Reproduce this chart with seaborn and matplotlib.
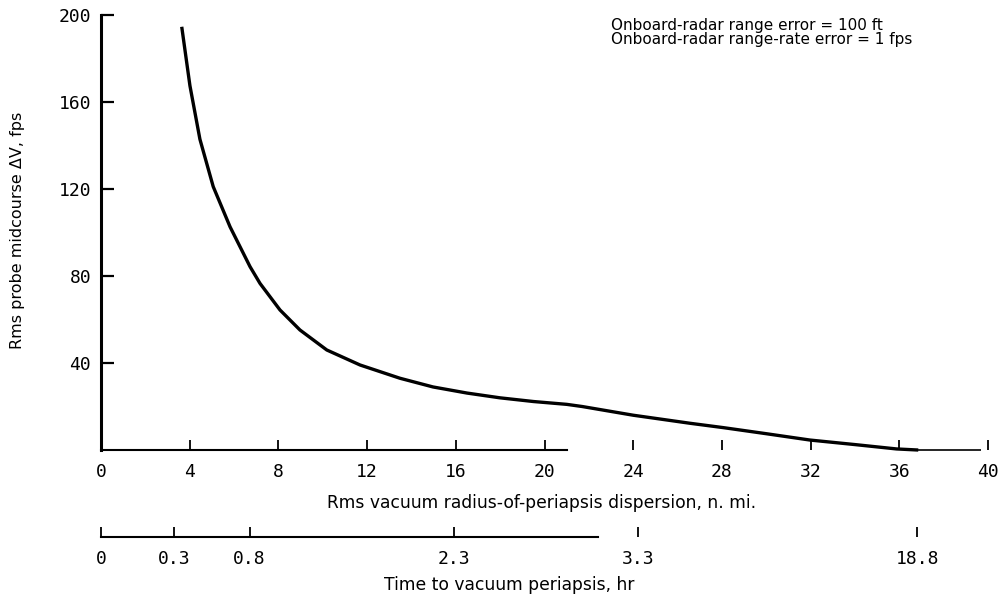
import matplotlib
matplotlib.use("Agg")
import matplotlib.pyplot as plt
import seaborn as sns
import pandas as pd

# ---- data ----
dispersion_nmi = [3.64, 4.01, 4.46, 5.06, 5.82, 6.72, 7.17, 8.07, 8.97, 10.18,
                  11.68, 13.48, 14.97, 16.5, 17.99, 19.5, 21.0, 21.7, 24.0, 26.56,
                  28.06, 30.0, 31.96, 34.0, 35.87, 36.85]
delta_v_fps = [194.6, 167.5, 142.9, 121.1, 102.6, 84.3, 76.6, 64.4, 55.2, 46.0,
               39.1, 33.0, 29.0, 26.2, 24.0, 22.3, 21.0, 20.0, 16.0, 12.3,
               10.3, 7.5, 4.6, 2.5, 0.5, 0.0]

x_ticks = [0, 4, 8, 12, 16, 20, 24, 28, 32, 36, 40]
y_ticks = [40, 80, 120, 160, 200]
time_tick_pos = [0, 3.3, 6.7, 15.9, 24.2, 36.8]
time_tick_labels = ["0", "0.3", "0.8", "2.3", "3.3", "18.8"]
x_axis_drawn = [0, 21.0]
x_axis_tail = [36.8, 39.7]
time_axis_drawn = [0, 22.4]

x_label = "Rms vacuum radius-of-periapsis dispersion, n. mi."
y_label = "Rms probe midcourse \u0394V, fps"
time_label = "Time to vacuum periapsis, hr"
note_lines = ["Onboard-radar range error = 100 ft",
              "Onboard-radar range-rate error = 1 fps"]

sns.set_theme(style="white")
plt.rcParams['font.family'] = ['DejaVu Sans']
plt.rcParams['text.color'] = 'black'
plt.rcParams['axes.labelcolor'] = 'black'
plt.rcParams['xtick.color'] = 'black'
plt.rcParams['ytick.color'] = 'black'
mono = 'DejaVu Sans Mono'

fig = plt.figure(figsize=(10.02, 5.99), dpi=100)
ax = fig.add_axes([0.1008, 0.2487, 0.892, 0.7262])

df = pd.DataFrame({"dispersion": dispersion_nmi, "dv": delta_v_fps})
sns.lineplot(data=df, x="dispersion", y="dv", ax=ax, color="black",
             linewidth=2.4, sort=False, estimator=None)
for ln in ax.lines:
    ln.set_clip_on(False)
    ln.set_solid_joinstyle("round")
    ln.set_solid_capstyle("butt")

ax.set_xlim(0, 40.3)
ax.set_ylim(0, 200)

for s in ["top", "right"]:
    ax.spines[s].set_visible(False)
ax.spines["left"].set_linewidth(2.2)
ax.spines["left"].set_color("black")
ax.spines["left"].set_bounds(0, 200)
ax.spines["bottom"].set_linewidth(1.5)
ax.spines["bottom"].set_color("black")
ax.spines["bottom"].set_bounds(*x_axis_drawn)
ax.hlines(0, *x_axis_tail, color="black", linewidth=1.2, clip_on=False)

ax.set_xticks(x_ticks, [str(v) for v in x_ticks], fontfamily=mono, fontsize=13)
ax.set_yticks(y_ticks, [str(v) for v in y_ticks], fontfamily=mono, fontsize=13)
ax.tick_params(axis="x", direction="in", length=7, width=1.3, pad=9,
               color="black", labelcolor="black", bottom=True)
ax.tick_params(axis="y", direction="in", length=9, width=1.6, pad=7,
               color="black", labelcolor="black", left=True)

ax.set_xlabel(x_label, fontsize=12.3, color="black")
ax.xaxis.set_label_coords(0.493, -0.1)
ax.set_ylabel(y_label, fontsize=11.5, color="black")
ax.yaxis.set_label_coords(-0.085, 0.506)

secax = ax.secondary_xaxis(-0.2)
secax.set_xticks(time_tick_pos, time_tick_labels, fontfamily=mono, fontsize=13)
secax.tick_params(axis="x", direction="in", length=7, width=1.3, pad=9,
                  color="black", labelcolor="black")
secax.spines["bottom"].set_linewidth(1.5)
secax.spines["bottom"].set_color("black")
secax.spines["bottom"].set_bounds(*time_axis_drawn)

ax.text(0.457, -0.31, time_label, transform=ax.transAxes, fontsize=12.3,
        ha="center", va="center", color="black")

ax.text(0.571, 0.977, note_lines[0], transform=ax.transAxes, fontsize=11,
        ha="left", va="center", color="black")
ax.text(0.571, 0.943, note_lines[1], transform=ax.transAxes, fontsize=11,
        ha="left", va="center", color="black")

fig.savefig("out.png", dpi=100)
